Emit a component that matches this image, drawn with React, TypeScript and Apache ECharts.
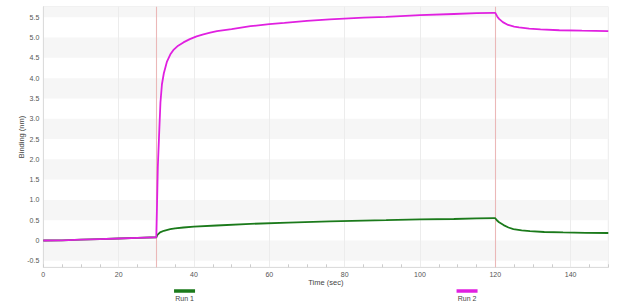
import React, { useEffect, useRef } from "react";
import * as echarts from "echarts";

const run1Time = [0, 5, 10, 15, 20, 25, 30, 30.3, 31, 32, 33.7, 35, 37.2, 40, 46, 55, 65, 76, 85, 91, 100, 109, 115, 119.5, 120, 120.4, 121, 122.2, 123.5, 124.8, 127, 129.2, 133, 138, 144, 150];
const run1Values = [0, 0.005, 0.02, 0.035, 0.05, 0.065, 0.08, 0.14, 0.2, 0.24, 0.28, 0.3, 0.32, 0.34, 0.37, 0.41, 0.44, 0.47, 0.49, 0.5, 0.52, 0.53, 0.545, 0.55, 0.55, 0.5, 0.45, 0.38, 0.32, 0.28, 0.25, 0.23, 0.21, 0.2, 0.19, 0.185];

const run2Time = [0, 5, 10, 15, 20, 25, 30, 30.2, 30.4, 30.7, 31.1, 31.5, 32, 32.8, 33.7, 34.5, 35.8, 37.2, 38.9, 40.7, 42.5, 44.3, 46.1, 50, 55, 60, 64, 70, 76, 85, 91, 100, 109, 115, 119.5, 120, 120.5, 121, 122, 123.4, 125, 126.3, 129, 132, 137, 143, 150];
const run2Values = [0, 0.005, 0.02, 0.035, 0.05, 0.065, 0.08, 0.9, 1.8, 2.5, 3.4, 3.85, 4.12, 4.4, 4.58, 4.69, 4.8, 4.88, 4.96, 5.03, 5.08, 5.12, 5.16, 5.21, 5.28, 5.33, 5.36, 5.41, 5.45, 5.49, 5.51, 5.55, 5.58, 5.6, 5.61, 5.61, 5.52, 5.46, 5.38, 5.31, 5.27, 5.25, 5.22, 5.2, 5.18, 5.17, 5.16];

const yTicks = [-0.5, 0, 0.5, 1, 1.5, 2, 2.5, 3, 3.5, 4, 4.5, 5, 5.5];
const xTicks = [0, 20, 40, 60, 80, 100, 120, 140];
const phaseMarks = [30, 120];
const seriesNames = ["Run 1", "Run 2"];
const seriesColors = ["#1b7a1b", "#e020e0"];

const Y_MIN = -0.66;
const Y_MAX = 5.76;

export default function App() {
  const ref = useRef<HTMLDivElement>(null);
  useEffect(() => {
    if (!ref.current) return;
    const chart = echarts.init(ref.current, undefined, { renderer: "svg" });
    const font = "Liberation Sans, Arial, sans-serif";
    const bands: any[] = [];
    for (let i = 0; i < yTicks.length; i += 2) {
      const lo = yTicks[i];
      const hi = i + 1 < yTicks.length ? yTicks[i + 1] : Y_MAX;
      bands.push([{ yAxis: lo }, { yAxis: hi }]);
    }
    const gridLines = xTicks
      .filter((x) => x > 0 && !phaseMarks.includes(x))
      .map((x) => ({ xAxis: x, lineStyle: { color: "#ececec", width: 1, type: "solid" } }));
    const phaseLines = phaseMarks.map((x) => ({
      xAxis: x,
      lineStyle: { color: "#ebb8b8", width: 1.1, type: "solid" },
    }));
    const left = 43.3;
    const right = 31.7;
    const plotW = 640 - left - right;
    const legendY = 291;
    const legendItems = seriesNames.map((name, i) => {
      const cx = left + (plotW * (2 * i + 1)) / 4;
      return [
        {
          type: "line",
          shape: { x1: cx - 10.5, y1: legendY, x2: cx + 10.5, y2: legendY },
          style: { stroke: seriesColors[i], lineWidth: 3.5 },
        },
        {
          type: "text",
          x: cx,
          y: legendY + 7.5,
          style: {
            text: name,
            fill: "#444",
            font: `7px ${font}`,
            textAlign: "center",
            textVerticalAlign: "middle",
          },
        },
      ];
    }).flat();

    chart.setOption({
      animation: false,
      grid: {
        left,
        right,
        top: 6.7,
        bottom: 39.7,
        show: true,
        borderColor: "#ececec",
        borderWidth: 1,
      },
      xAxis: {
        type: "value",
        min: 0,
        max: 150,
        interval: 20,
        name: "Time (sec)",
        nameLocation: "middle",
        nameGap: 11.5,
        nameMoveOverlap: false,
        nameTextStyle: { fontSize: 7.5, color: "#444", fontFamily: font },
        axisLine: { show: true, onZero: false, lineStyle: { color: "#dcdcdc" } },
        axisTick: { show: true, inside: true, length: 3, lineStyle: { color: "#ccc" } },
        minorTick: { show: true, splitNumber: 4, length: 3, lineStyle: { color: "#ccc" } },
        axisLabel: { fontSize: 7, color: "#555", fontFamily: font, margin: 4, customValues: xTicks },
        splitLine: { show: false },
      },
      yAxis: {
        type: "value",
        min: Y_MIN,
        max: Y_MAX,
        name: "Binding (nm)",
        nameLocation: "middle",
        nameGap: 18,
        nameMoveOverlap: false,
        nameTextStyle: { fontSize: 7.5, color: "#444", fontFamily: font },
        axisLine: { show: true, onZero: false, lineStyle: { color: "#dcdcdc" } },
        axisTick: { show: false, customValues: yTicks },
        axisLabel: {
          fontSize: 7,
          color: "#555",
          fontFamily: font,
          margin: 4,
          customValues: yTicks,
          formatter: (v: number) => (v === 0 ? "0" : v.toFixed(1)),
        },
        splitLine: { show: false },
      },
      series: [
        {
          name: seriesNames[0],
          type: "line",
          data: run1Time.map((t, i) => [t, run1Values[i]]),
          showSymbol: false,
          symbol: "none",
          lineStyle: { color: seriesColors[0], width: 1.8 },
          itemStyle: { color: seriesColors[0] },
          z: 3,
          markArea: {
            silent: true,
            itemStyle: { color: "#f6f6f6" },
            data: bands,
            z: 0,
          },
          markLine: {
            silent: true,
            symbol: "none",
            label: { show: false },
            z: 1,
            data: [...gridLines, ...phaseLines],
          },
        },
        {
          name: seriesNames[1],
          type: "line",
          data: run2Time.map((t, i) => [t, run2Values[i]]),
          showSymbol: false,
          symbol: "none",
          lineStyle: { color: seriesColors[1], width: 1.8 },
          itemStyle: { color: seriesColors[1] },
          z: 4,
        },
      ],
      graphic: legendItems,
    });
    return () => chart.dispose();
  }, []);
  return <div ref={ref} style={{ width: 640, height: 307, position: "absolute", left: 0, top: 0 }} />;
}
